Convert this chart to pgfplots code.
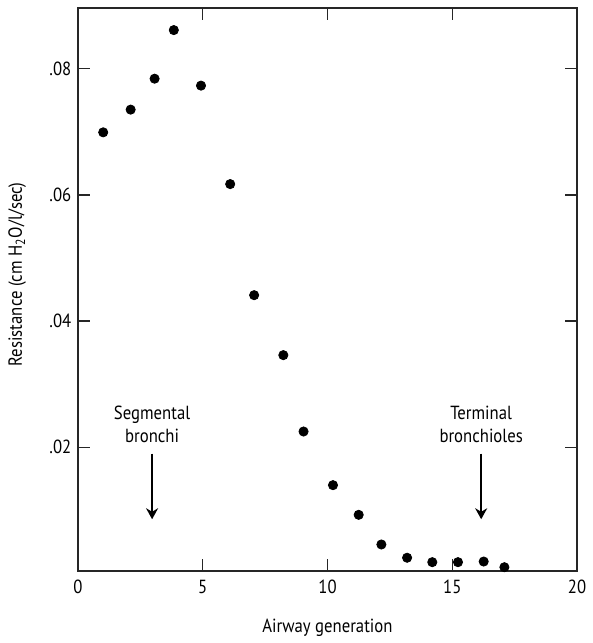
\documentclass[border=0pt]{standalone}
\usepackage{fontspec}
\setmainfont{PT Sans}[FakeStretch=0.88]
\usepackage{pgfplots}
\pgfplotsset{compat=1.18}
\usetikzlibrary{arrows.meta}
\begin{document}
\fontsize{9.5}{11}\selectfont
\begin{tikzpicture}
\begin{axis}[
  scale only axis, width=249.5pt, height=281.5pt,
  xmin=0, xmax=20, ymin=0.0004, ymax=0.0896,
  xtick={0,5,10,15,20},
  ytick={0.02,0.04,0.06,0.08},
  yticklabels={.02,.04,.06,.08},
  scaled y ticks=false,
  tick align=inside, major tick length=6pt,
  axis line style={draw=black!85, line width=0.7pt},
  tick style={draw=black!85, line width=0.7pt},
  xticklabel style={font=\fontsize{9.5}{11}\selectfont, yshift=-1pt},
  yticklabel style={font=\fontsize{9.5}{11}\selectfont},
  /pgf/number format/assume math mode=true,
  xlabel={Airway generation},
  ylabel={Resistance (cm H\textsubscript{2}O/l/sec)},
  xlabel style={font=\fontsize{9.5}{11}\selectfont,
    at={(axis description cs:0.5,-0.101)}, anchor=center},
  ylabel style={font=\fontsize{9.5}{11}\selectfont,
    at={(axis description cs:-0.122,0.527)}, anchor=center},
  clip=false,
]
\addplot[only marks, mark=*, mark size=2.3pt, color=black] coordinates {
  (1.01,0.0699) (2.11,0.0735) (3.07,0.0784) (3.84,0.0861) (4.93,0.0773)
  (6.10,0.0617) (7.06,0.0441) (8.23,0.0346) (9.04,0.0225) (10.22,0.0140)
  (11.25,0.0093) (12.16,0.0046) (13.19,0.0025) (14.20,0.0018) (15.23,0.0018)
  (16.26,0.0019) (17.09,0.0010)
};
\draw[-{Stealth[length=5.5pt,width=6pt]}, line width=0.9pt]
  (axis cs:2.97,0.0190) -- (axis cs:2.97,0.0086);
\draw[-{Stealth[length=5.5pt,width=6pt]}, line width=0.9pt]
  (axis cs:16.16,0.0190) -- (axis cs:16.16,0.0086);
\node[align=center, font=\fontsize{9.5}{11.5}\selectfont, anchor=south]
  at (axis cs:2.97,0.0196) {Segmental\\bronchi};
\node[align=center, font=\fontsize{9.5}{11.5}\selectfont, anchor=south]
  at (axis cs:16.16,0.0196) {Terminal\\bronchioles};
% page margins as in the reference
\path (rel axis cs:0,0) ++(-39pt,-36pt) coordinate (bbsw);
\path (rel axis cs:1,1) ++(5pt,4pt) coordinate (bbne);
\path (bbsw) rectangle (bbne);
\end{axis}
\end{tikzpicture}
\end{document}
